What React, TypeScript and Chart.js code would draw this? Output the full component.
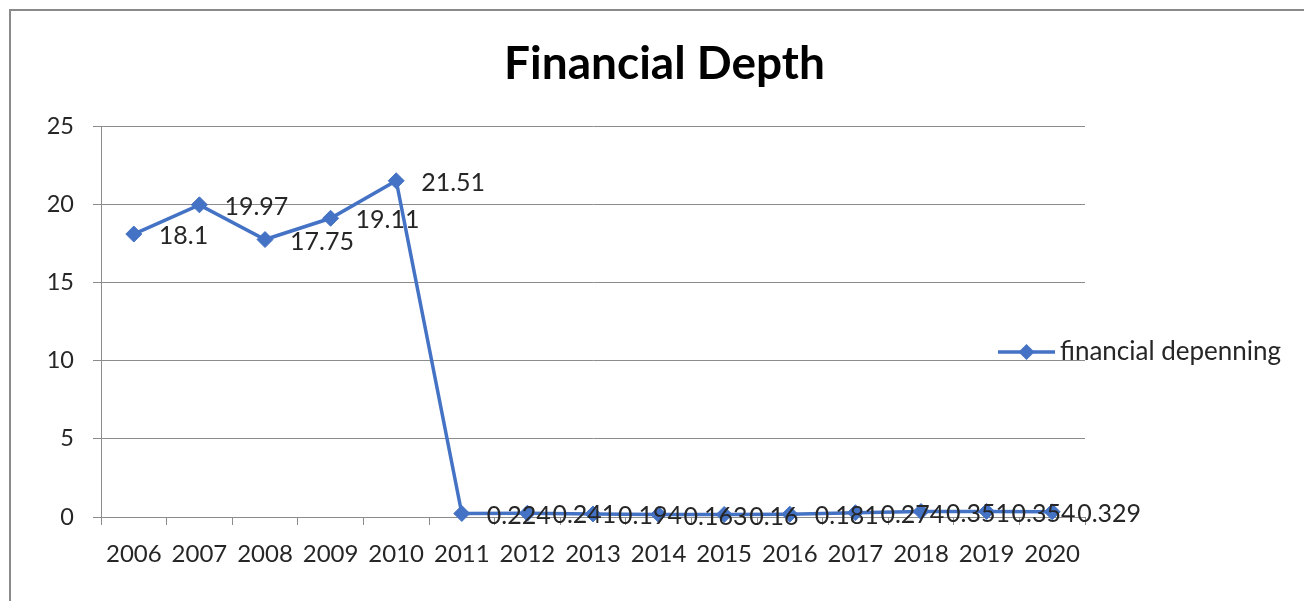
import React, { useEffect, useRef } from "react";
import { Chart, registerables } from "chart.js";

Chart.register(...registerables);

const chartTitle = "Financial Depth";
const seriesName = "financial depenning";
const years = ["2006", "2007", "2008", "2009", "2010", "2011", "2012", "2013", "2014", "2015", "2016", "2017", "2018", "2019", "2020"];
const financialDepenning = [18.1, 19.97, 17.75, 19.11, 21.51, 0.224, 0.241, 0.194, 0.163, 0.16, 0.181, 0.274, 0.351, 0.354, 0.329];
const yMin = 0;
const yMax = 25;
const yStep = 5;

const LINE_COLOR = "#4472C4";
const GRID_COLOR = "#8c8c8c";
const TEXT_COLOR = "#262626";
const FONT = "Lato, 'Open Sans', sans-serif";

function diamond(ctx: CanvasRenderingContext2D, x: number, y: number, r: number) {
  ctx.beginPath();
  ctx.moveTo(x, y - r);
  ctx.lineTo(x + r, y);
  ctx.lineTo(x, y + r);
  ctx.lineTo(x - r, y);
  ctx.closePath();
  ctx.fill();
}

const dataLabelPlugin = {
  id: "dataLabels",
  afterDatasetsDraw(chart: any) {
    const ctx = chart.ctx as CanvasRenderingContext2D;
    const meta = chart.getDatasetMeta(0);
    const values = chart.data.datasets[0].data as number[];
    ctx.save();
    ctx.font = `25px ${FONT}`;
    ctx.fillStyle = TEXT_COLOR;
    ctx.textAlign = "left";
    ctx.textBaseline = "middle";
    meta.data.forEach((pt: any, i: number) => {
      ctx.fillText(String(values[i]), pt.x + 25, pt.y + 2);
    });
    ctx.restore();
  },
};

const legendPlugin = {
  id: "customLegend",
  afterDraw(chart: any) {
    const ctx = chart.ctx as CanvasRenderingContext2D;
    const area = chart.chartArea;
    const x0 = area.right - 87;
    const y = 352;
    ctx.save();
    ctx.strokeStyle = LINE_COLOR;
    ctx.fillStyle = LINE_COLOR;
    ctx.lineWidth = 3.5;
    ctx.beginPath();
    ctx.moveTo(x0, y);
    ctx.lineTo(x0 + 57, y);
    ctx.stroke();
    diamond(ctx, x0 + 28.5, y, 8);
    ctx.font = `26px ${FONT}`;
    ctx.fillStyle = TEXT_COLOR;
    ctx.textAlign = "left";
    ctx.textBaseline = "middle";
    ctx.fillText(chart.data.datasets[0].label, x0 + 62, y);
    ctx.restore();
  },
};

export default function App() {
  const canvasRef = useRef<HTMLCanvasElement | null>(null);

  useEffect(() => {
    if (!canvasRef.current) return;
    const chart = new Chart(canvasRef.current, {
      type: "line",
      data: {
        labels: years,
        datasets: [
          {
            label: seriesName,
            data: financialDepenning,
            borderColor: LINE_COLOR,
            backgroundColor: LINE_COLOR,
            borderWidth: 3.5,
            tension: 0,
            pointStyle: "rectRot",
            pointRadius: 8,
            pointBorderWidth: 1,
            pointBackgroundColor: LINE_COLOR,
            pointBorderColor: LINE_COLOR,
            clip: false as any,
          },
        ],
      },
      options: {
        responsive: false,
        animation: false,
        layout: { padding: { left: 25, right: 0, top: 0, bottom: 0 } },
        plugins: {
          legend: { display: false },
          tooltip: { enabled: false },
          title: {
            display: true,
            text: chartTitle,
            color: "#000",
            font: { family: FONT, size: 46, weight: "bold" },
            padding: { top: 37, bottom: 34 },
          },
        },
        scales: {
          x: {
            type: "category",
            offset: true,
            grid: {
              display: true,
              offset: true,
              drawOnChartArea: false,
              drawTicks: true,
              tickLength: 8,
              color: GRID_COLOR,
            },
            border: { display: true, color: GRID_COLOR, width: 1 },
            ticks: {
              color: TEXT_COLOR,
              font: { family: FONT, size: 24 },
              padding: 15,
              maxRotation: 0,
              autoSkip: false,
            },
            afterFit: (scale: any) => {
              scale.height = 84;
            },
          },
          y: {
            type: "linear",
            min: yMin,
            max: yMax,
            ticks: {
              stepSize: yStep,
              color: TEXT_COLOR,
              font: { family: FONT, size: 23.5 },
              padding: 19,
            },
            grid: {
              color: GRID_COLOR,
              tickLength: 8,
              drawTicks: true,
            },
            border: { display: true, color: GRID_COLOR, width: 1 },
            afterFit: (scale: any) => {
              scale.width = 76;
            },
          },
          yRight: {
            type: "linear",
            position: "right",
            display: true,
            grid: { display: false, drawOnChartArea: false },
            border: { display: false },
            ticks: { display: false },
            afterFit: (scale: any) => {
              scale.width = 219;
            },
          },
        },
      },
      plugins: [dataLabelPlugin, legendPlugin],
    });
    return () => chart.destroy();
  }, []);

  return (
    <div style={{ position: "fixed", left: 0, top: 0, width: 1304, height: 601, background: "#fff", overflow: "hidden" }}>
      <canvas ref={canvasRef} width={1304} height={601} style={{ position: "absolute", left: 0, top: 0 }} />
      <div
        style={{
          position: "absolute",
          left: 9,
          top: 9,
          width: 1400,
          height: 700,
          borderTop: "2px solid #8a8a8a",
          borderLeft: "2px solid #8a8a8a",
          pointerEvents: "none",
        }}
      />
    </div>
  );
}
